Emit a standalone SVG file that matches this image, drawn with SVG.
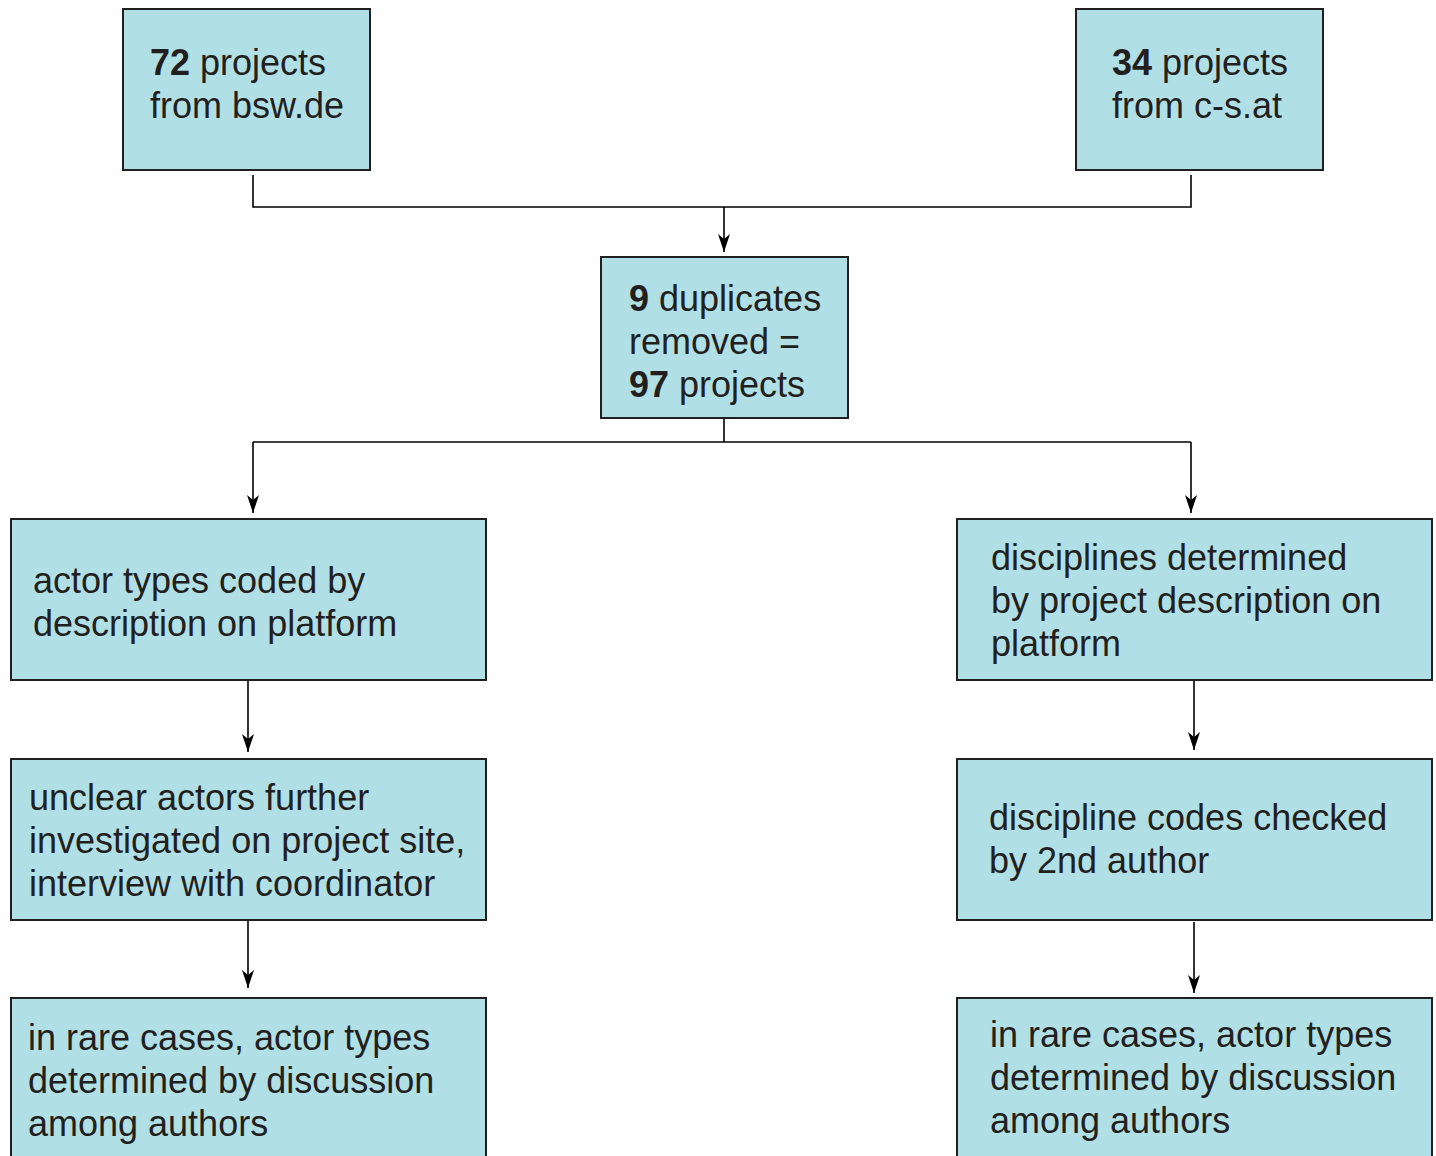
<svg xmlns="http://www.w3.org/2000/svg" width="1436" height="1156" viewBox="0 0 1436 1156">
<style>
.box{fill:#b0dfe5;stroke:#231f20;stroke-width:2}
.t{font-family:"Liberation Sans",Arial,sans-serif;font-size:36px;fill:#231f20}
.b{font-weight:bold}
.c{fill:none;stroke:#000;stroke-width:1.6}
</style>
<defs>
<marker id="ah" markerUnits="userSpaceOnUse" markerWidth="20" markerHeight="14" viewBox="-19 -7 20 14" refX="0" refY="0" orient="auto">
<path d="M0,0 L-18,-6 L-13,0 L-18,6 Z" fill="#000"/>
</marker>
</defs>
<rect width="1436" height="1156" fill="#fff"/>
<g id="connectors">
<path class="c" d="M253,175 V207 H1191 V175"/>
<path class="c" d="M724,207 V252" marker-end="url(#ah)"/>
<path class="c" d="M724,419 V442"/>
<path class="c" d="M253,442 H1191"/>
<path class="c" d="M253,442 V513" marker-end="url(#ah)"/>
<path class="c" d="M1191,442 V513" marker-end="url(#ah)"/>
<path class="c" d="M248,681 V752" marker-end="url(#ah)"/>
<path class="c" d="M248,920 V988" marker-end="url(#ah)"/>
<path class="c" d="M1194,681 V750" marker-end="url(#ah)"/>
<path class="c" d="M1194,922 V993" marker-end="url(#ah)"/>
</g>
<g id="n1">
<rect class="box" x="123" y="9" width="247" height="161"/>
<text class="t" x="150" y="75"><tspan class="b">72</tspan> projects</text>
<text class="t" x="150" y="118">from bsw.de</text>
</g>
<g id="n2">
<rect class="box" x="1076" y="9" width="247" height="161"/>
<text class="t" x="1112" y="75"><tspan class="b">34</tspan> projects</text>
<text class="t" x="1112" y="118">from c-s.at</text>
</g>
<g id="n3">
<rect class="box" x="601" y="257" width="247" height="161"/>
<text class="t" x="629" y="311"><tspan class="b">9</tspan> duplicates</text>
<text class="t" x="629" y="354">removed =</text>
<text class="t" x="629" y="397"><tspan class="b">97</tspan> projects</text>
</g>
<g id="n4">
<rect class="box" x="11" y="519" width="475" height="161"/>
<text class="t" x="33" y="593">actor types coded by</text>
<text class="t" x="33" y="636">description on platform</text>
</g>
<g id="n5">
<rect class="box" x="11" y="759" width="475" height="161"/>
<text class="t" x="29" y="810">unclear actors further</text>
<text class="t" x="29" y="853">investigated on project site,</text>
<text class="t" x="29" y="896">interview with coordinator</text>
</g>
<g id="n6">
<rect class="box" x="11" y="998" width="475" height="170"/>
<text class="t" x="28" y="1050">in rare cases, actor types</text>
<text class="t" x="28" y="1093">determined by discussion</text>
<text class="t" x="28" y="1136">among authors</text>
</g>
<g id="n7">
<rect class="box" x="957" y="519" width="475" height="161"/>
<text class="t" x="991" y="570">disciplines determined</text>
<text class="t" x="991" y="613">by project description on</text>
<text class="t" x="991" y="656">platform</text>
</g>
<g id="n8">
<rect class="box" x="957" y="759" width="475" height="161"/>
<text class="t" x="989" y="830">discipline codes checked</text>
<text class="t" x="989" y="873">by 2nd author</text>
</g>
<g id="n9">
<rect class="box" x="957" y="998" width="475" height="170"/>
<text class="t" x="990" y="1047">in rare cases, actor types</text>
<text class="t" x="990" y="1090">determined by discussion</text>
<text class="t" x="990" y="1133">among authors</text>
</g>
</svg>
